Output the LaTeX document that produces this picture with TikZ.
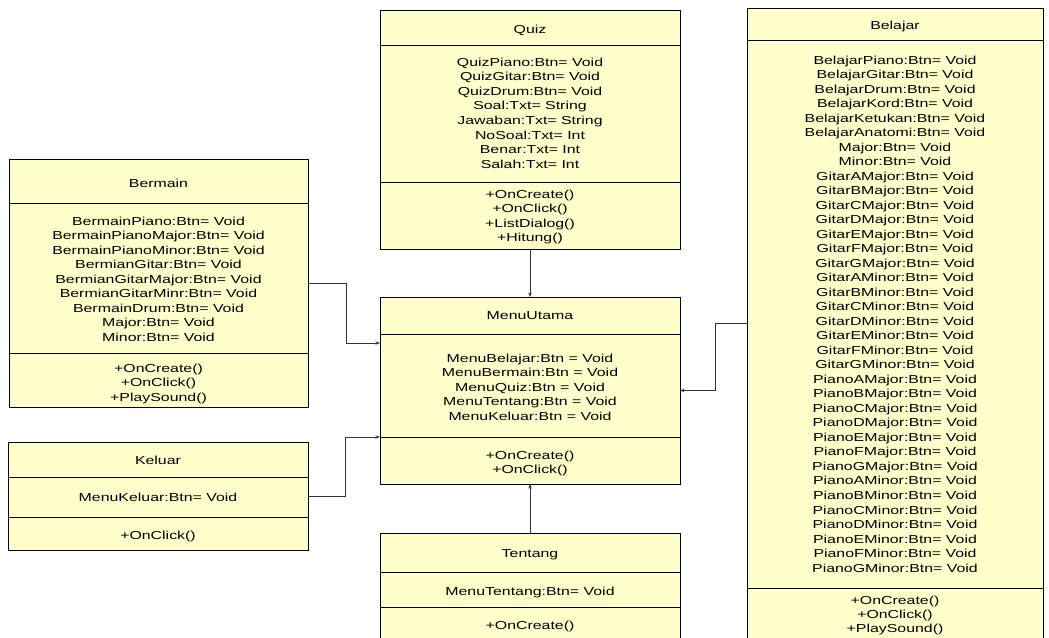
\documentclass[tikz,border=0pt]{standalone}
\usepackage{fontspec}
\setmainfont[FakeStretch=1.37]{Liberation Sans}
\usetikzlibrary{arrows.meta}
\definecolor{umlfill}{HTML}{FFFFCC}
\definecolor{connc}{HTML}{333333}
\begin{document}
\begin{tikzpicture}[x=1pt,y=-1pt,
  clsbox/.style={draw=black,line width=0.8pt,fill=umlfill,inner sep=0pt,outer sep=0pt,anchor=north west},
  divline/.style={draw=black,line width=0.8pt},
  txt/.style={font=\fontsize{11.6}{14}\selectfont,inner sep=0pt,anchor=base},
  conn/.style={draw=connc,line width=0.8pt,-{Stealth[length=4.5pt,width=3.5pt]}}]
\useasboundingbox (0,0) rectangle (1049,637);
\clip (0,0) rectangle (1049,637);

% ---------- boxes ----------
\node[clsbox,minimum width=300pt,minimum height=239pt] (quiz) at (380,10) {};
\node[clsbox,minimum width=299pt,minimum height=248pt] (bermain) at (9,159) {};
\node[clsbox,minimum width=300pt,minimum height=108pt] (keluar) at (8,442) {};
\node[clsbox,minimum width=300pt,minimum height=187pt] (menu) at (380,297) {};
\node[clsbox,minimum width=300pt,minimum height=130pt] (tentang) at (380,533) {};
\node[clsbox,minimum width=296pt,minimum height=630pt] (belajar) at (747,8) {};

% ---------- dividers ----------
\draw[divline] (380,45) -- (680,45);
\draw[divline] (380,182) -- (680,182);
\draw[divline] (9,203) -- (308,203);
\draw[divline] (9,353) -- (308,353);
\draw[divline] (8,477) -- (308,477);
\draw[divline] (8,517) -- (308,517);
\draw[divline] (380,334) -- (680,334);
\draw[divline] (380,437) -- (680,437);
\draw[divline] (380,572) -- (680,572);
\draw[divline] (380,607) -- (680,607);
\draw[divline] (747,40) -- (1043,40);
\draw[divline] (747,588) -- (1043,588);

% ---------- Quiz ----------
\node[txt] (quizT) at (530,33) {Quiz};
\foreach \t [count=\i from 0] in {QuizPiano:Btn= Void,QuizGitar:Btn= Void,QuizDrum:Btn= Void,Soal:Txt= String,Jawaban:Txt= String,NoSoal:Txt= Int,Benar:Txt= Int,Salah:Txt= Int}
  \node[txt] (quizA\i) at (530,66+14.65*\i) {\t};
\foreach \t [count=\i from 0] in {+OnCreate(),+OnClick(),+ListDialog(),+Hitung()}
  \node[txt] (quizM\i) at (530,198.5+14.4*\i) {\t};

% ---------- Bermain ----------
\node[txt] (bermainT) at (158.5,187) {Bermain};
\foreach \t [count=\i from 0] in {BermainPiano:Btn= Void,BermainPianoMajor:Btn= Void,BermainPianoMinor:Btn= Void,BermianGitar:Btn= Void,BermianGitarMajor:Btn= Void,BermianGitarMinr:Btn= Void,BermainDrum:Btn= Void,Major:Btn= Void,Minor:Btn= Void}
  \node[txt] (bermainA\i) at (158.5,225+14.5*\i) {\t};
\foreach \t [count=\i from 0] in {+OnCreate(),+OnClick(),+PlaySound()}
  \node[txt] (bermainM\i) at (158.5,372+14.5*\i) {\t};

% ---------- Keluar ----------
\node[txt] (keluarT) at (158,464) {Keluar};
\node[txt] (keluarA) at (158,501) {MenuKeluar:Btn= Void};
\node[txt] (keluarM) at (158,539) {+OnClick()};

% ---------- MenuUtama ----------
\node[txt] (menuT) at (530,319) {MenuUtama};
\foreach \t [count=\i from 0] in {MenuBelajar:Btn = Void,MenuBermain:Btn = Void,MenuQuiz:Btn = Void,MenuTentang:Btn = Void,MenuKeluar:Btn = Void}
  \node[txt] (menuA\i) at (530,362+14.5*\i) {\t};
\node[txt] (menuM0) at (530,459) {+OnCreate()};
\node[txt] (menuM1) at (530,473) {+OnClick()};

% ---------- Tentang ----------
\node[txt] (tentangT) at (530,557) {Tentang};
\node[txt] (tentangA) at (530,595) {MenuTentang:Btn= Void};
\node[txt] (tentangM) at (530,629) {+OnCreate()};

% ---------- Belajar ----------
\node[txt] (belajarT) at (895,29) {Belajar};
\foreach \t [count=\i from 0] in {BelajarPiano:Btn= Void,BelajarGitar:Btn= Void,BelajarDrum:Btn= Void,BelajarKord:Btn= Void,BelajarKetukan:Btn= Void,BelajarAnatomi:Btn= Void,Major:Btn= Void,Minor:Btn= Void,GitarAMajor:Btn= Void,GitarBMajor:Btn= Void,GitarCMajor:Btn= Void,GitarDMajor:Btn= Void,GitarEMajor:Btn= Void,GitarFMajor:Btn= Void,GitarGMajor:Btn= Void,GitarAMinor:Btn= Void,GitarBMinor:Btn= Void,GitarCMinor:Btn= Void,GitarDMinor:Btn= Void,GitarEMinor:Btn= Void,GitarFMinor:Btn= Void,GitarGMinor:Btn= Void,PianoAMajor:Btn= Void,PianoBMajor:Btn= Void,PianoCMajor:Btn= Void,PianoDMajor:Btn= Void,PianoEMajor:Btn= Void,PianoFMajor:Btn= Void,PianoGMajor:Btn= Void,PianoAMinor:Btn= Void,PianoBMinor:Btn= Void,PianoCMinor:Btn= Void,PianoDMinor:Btn= Void,PianoEMinor:Btn= Void,PianoFMinor:Btn= Void,PianoGMinor:Btn= Void}
  \node[txt] (belajarA\i) at (895,64.2+14.51*\i) {\t};
\foreach \t [count=\i from 0] in {+OnCreate(),+OnClick(),+PlaySound()}
  \node[txt] (belajarM\i) at (895,604+14*\i) {\t};

% ---------- connectors ----------
\draw[conn] (quiz.south) -- (menu.north);
\draw[conn] (tentang.north) -- (menu.south);
\draw[conn] (bermain.east) -- ++(38,0) |- (menu.west |- 0,343);
\draw[conn] (keluar.east) -- ++(37,0) |- (menu.west |- 0,437);
\draw[conn] (belajar.west) -- ++(-32,0) |- (menu.east);
\end{tikzpicture}
\end{document}
